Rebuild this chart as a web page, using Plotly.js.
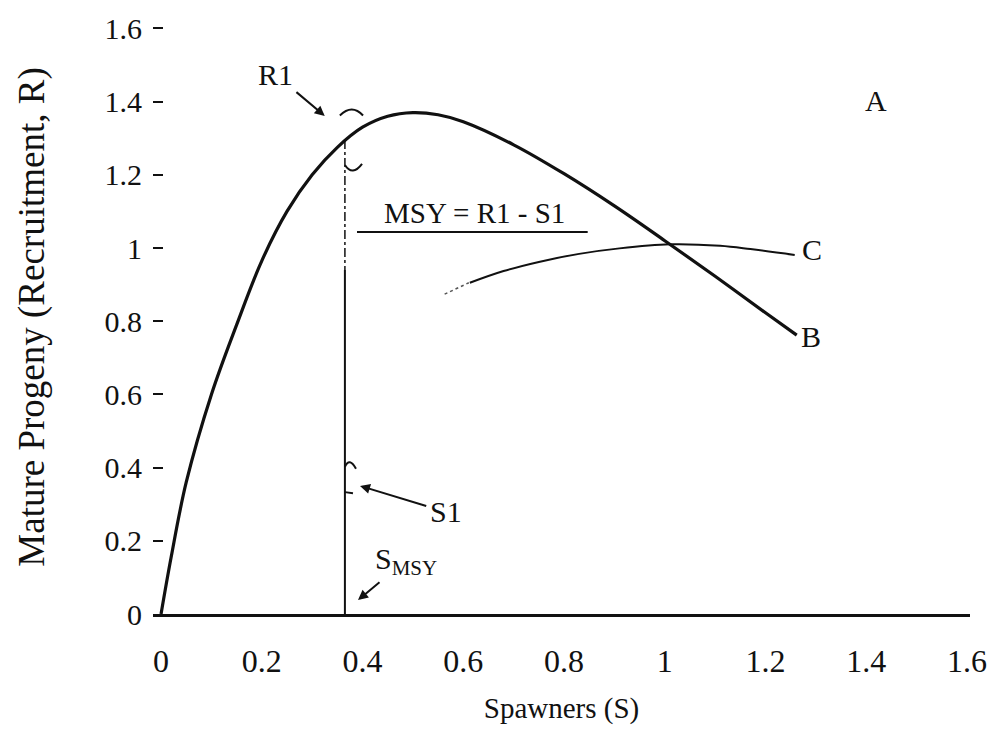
<!DOCTYPE html>
<html>
<head>
<meta charset="utf-8">
<script src="https://cdn.plot.ly/plotly-3.0.1.min.js"></script>
<style>html,body{margin:0;padding:0;background:#fff;}#chart{width:994px;height:730px;}</style>
</head>
<body>
<div id="chart"></div>
<script>
// Curve B (dome-shaped stock–recruitment)
const curveB_S = [0.000, 0.020, 0.050, 0.100, 0.150, 0.200, 0.250, 0.300, 0.350, 0.400, 0.450, 0.500, 0.550, 0.600, 0.700, 0.800, 0.900, 1.000, 1.100, 1.200, 1.262];
const curveB_R = [0.000, 0.155, 0.360, 0.600, 0.790, 0.965, 1.100, 1.200, 1.275, 1.330, 1.360, 1.370, 1.364, 1.345, 1.282, 1.203, 1.115, 1.020, 0.923, 0.823, 0.762];
// Curve C (asymptotic)
const curveC_S = [0.613, 0.680, 0.750, 0.830, 0.910, 1.010, 1.110, 1.170, 1.258];
const curveC_R = [0.905, 0.937, 0.962, 0.984, 0.999, 1.010, 1.006, 0.997, 0.981];
// faint dotted start of curve C
const curveCdots_S = [0.563, 0.611];
const curveCdots_R = [0.874, 0.905];
// S_MSY vertical line
const sMSY = 0.365;
const vertDash_R = [1.295, 0.940];
const vertSolid_R = [0.940, 0.000];
// tick values
const xTicks = [0, 0.2, 0.4, 0.6, 0.8, 1, 1.2, 1.4, 1.6];
const yTicks = [0, 0.2, 0.4, 0.6, 0.8, 1, 1.2, 1.4, 1.6];

const ink = '#111';
const traces = [
  {x: curveB_S, y: curveB_R, mode: 'lines', line: {color: ink, width: 3.2, shape: 'spline', smoothing: 1}, hoverinfo: 'skip'},
  {x: curveC_S, y: curveC_R, mode: 'lines', line: {color: ink, width: 2, shape: 'spline', smoothing: 1}, hoverinfo: 'skip'},
  {x: curveCdots_S, y: curveCdots_R, mode: 'lines', line: {color: '#555', width: 1.5, dash: 'dot'}, hoverinfo: 'skip'},
  {x: [sMSY, sMSY], y: vertDash_R, mode: 'lines', line: {color: ink, width: 1.5, dash: 'dashdot'}, hoverinfo: 'skip'},
  {x: [sMSY, sMSY], y: vertSolid_R, mode: 'lines', line: {color: ink, width: 2}, hoverinfo: 'skip'}
];

const serif = 'Liberation Serif, Times New Roman, serif';
function txt(x, y, text, size, extra) {
  return Object.assign({x: x, y: y, xref: 'x', yref: 'y', text: text, showarrow: false,
    font: {family: serif, size: size, color: ink}}, extra || {});
}
// text placed at (tx,ty) with an arrow pointing to (hx,hy)
function labelArrow(tx, ty, hx, hy, text, size) {
  return {x: hx, y: hy, ax: tx, ay: ty, xref: 'x', yref: 'y', axref: 'x', ayref: 'y',
    text: text, font: {family: serif, size: size, color: ink},
    showarrow: true, arrowhead: 2, arrowsize: 1, arrowwidth: 2, arrowcolor: ink, standoff: 0, startstandoff: 2};
}

const layout = {
  width: 994, height: 730,
  margin: {l: 153, r: 24, t: 20, b: 116},
  paper_bgcolor: '#ffffff', plot_bgcolor: '#ffffff',
  showlegend: false,
  xaxis: {
    range: [-0.016, 1.606], tickvals: xTicks, ticks: '', showgrid: false, zeroline: false,
    showline: true, linecolor: ink, linewidth: 2.5,
    ticklabelstandoff: 17,
    tickfont: {family: serif, size: 32, color: ink},
    title: {text: 'Spawners (S)', font: {family: serif, size: 29, color: ink}, standoff: 20}
  },
  yaxis: {
    range: [0, 1.623], tickvals: yTicks, ticks: 'inside', ticklen: 10, tickwidth: 2, tickcolor: ink,
    showgrid: false, zeroline: false, showline: false,
    ticklabelstandoff: 10,
    tickfont: {family: serif, size: 30, color: ink},
    title: {text: 'Mature Progeny (Recruitment, R)', font: {family: serif, size: 37, color: ink}, standoff: 48}
  },
  shapes: [
    // MSY underline
    {type: 'line', xref: 'x', yref: 'y', x0: 0.389, x1: 0.847, y0: 1.044, y1: 1.044, line: {color: ink, width: 2}},
    // R1 upper bracket
    {type: 'path', xref: 'x', yref: 'y', path: 'M 0.355,1.362 Q 0.379,1.395 0.401,1.362', line: {color: ink, width: 2}},
    // R1 lower bracket
    {type: 'path', xref: 'x', yref: 'y', path: 'M 0.365,1.227 Q 0.380,1.195 0.399,1.230', line: {color: ink, width: 2}},
    // S1 bracket
    {type: 'path', xref: 'x', yref: 'y', path: 'M 0.387,0.397 Q 0.374,0.430 0.365,0.402', line: {color: ink, width: 2}},
    {type: 'line', xref: 'x', yref: 'y', x0: 0.365, x1: 0.381, y0: 0.333, y1: 0.330, line: {color: ink, width: 2}}
  ],
  annotations: [
    labelArrow(0.228, 1.473, 0.325, 1.361, 'R1', 30),
    txt(0.623, 1.096, 'MSY = R1 - S1', 29),
    txt(1.419, 1.404, 'A', 30),
    txt(1.292, 0.997, 'C', 30),
    txt(1.290, 0.757, 'B', 30),
    labelArrow(0.565, 0.279, 0.395, 0.350, 'S1', 30),
    labelArrow(0.486, 0.146, 0.391, 0.038, 'S<sub>MSY</sub>', 30)
  ]
};

Plotly.newPlot('chart', traces, layout, {staticPlot: true, displayModeBar: false});
</script>
</body>
</html>
